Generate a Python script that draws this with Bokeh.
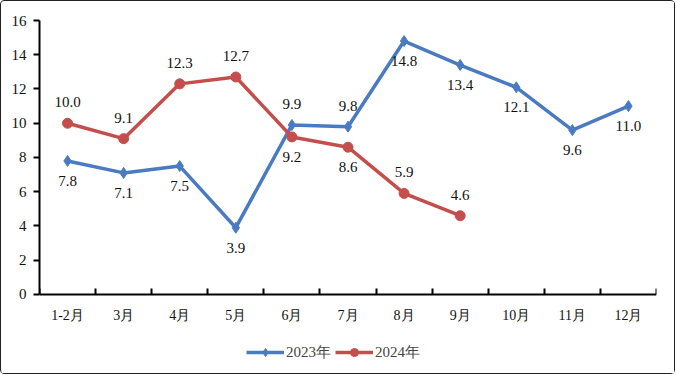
from bokeh.plotting import figure
from bokeh.models import ColumnDataSource, FixedTicker, Range1d, Legend, LegendItem, LabelSet
from bokeh.embed import file_html
from bokeh.resources import INLINE

months = ["1-2月", "3月", "4月", "5月", "6月", "7月", "8月", "9月", "10月", "11月", "12月"]
y2023 = [7.8, 7.1, 7.5, 3.9, 9.9, 9.8, 14.8, 13.4, 12.1, 9.6, 11.0]
y2024 = [10.0, 9.1, 12.3, 12.7, 9.2, 8.6, 5.9, 4.6]
y_ticks = [0, 2, 4, 6, 8, 10, 12, 14, 16]

# label placement (style): True = above the point, False = below
above2023 = [False, False, False, False, True, True, False, False, False, False, False]
above2024 = [True, True, True, True, False, False, True, True]

BLUE = "#4A7BC2"
RED = "#C44E4C"
FONT = "Liberation Serif"

x2023 = [i + 0.5 for i in range(len(y2023))]
x2024 = [i + 0.5 for i in range(len(y2024))]

# frame spans the whole lower area so the legend can sit under the axis
p = figure(width=675, height=374, output_backend="svg", toolbar_location=None,
           x_range=Range1d(0, len(months)), y_range=Range1d(-4.73, 16),
           min_border_left=38, min_border_right=20, min_border_top=19, min_border_bottom=0)
p.styles = {"border": "1px solid #222", "border-radius": "4px"}
p.outline_line_color = None
p.grid.visible = False
p.background_fill_color = "white"

p.xaxis.fixed_location = 0
p.xaxis.ticker = FixedTicker(ticks=x2023, minor_ticks=list(range(len(months) + 1)))
p.xaxis.major_label_overrides = {x: m for x, m in zip(x2023, months)}
p.xaxis.major_tick_line_color = None
p.xaxis.minor_tick_in = 6
p.xaxis.minor_tick_out = 0
p.xaxis.minor_tick_line_color = "black"
p.xaxis.minor_tick_line_width = 2
p.xaxis.axis_line_width = 2
p.xaxis.axis_line_color = "black"
p.xaxis.major_label_standoff = 8
p.xaxis.major_label_text_font = FONT
p.xaxis.major_label_text_font_size = "14px"
p.xaxis.major_label_text_color = "#111"

p.yaxis.bounds = (0, 16)
p.yaxis.ticker = FixedTicker(ticks=y_ticks)
p.yaxis.minor_tick_line_color = None
p.yaxis.major_tick_in = 0
p.yaxis.major_tick_out = 6
p.yaxis.major_tick_line_width = 2
p.yaxis.axis_line_width = 2
p.yaxis.axis_line_color = "black"
p.yaxis.major_label_standoff = 7
p.yaxis.major_label_text_font = FONT
p.yaxis.major_label_text_font_size = "15px"
p.yaxis.major_label_text_color = "#111"

s23 = ColumnDataSource(dict(x=x2023, y=y2023))
s24 = ColumnDataSource(dict(x=x2024, y=y2024))

l1 = p.line("x", "y", source=s23, line_color=BLUE, line_width=3.5)
m1 = p.scatter("x", "y", source=s23, marker="diamond", size=11, fill_color=BLUE, line_color=BLUE)
l2 = p.line("x", "y", source=s24, line_color=RED, line_width=3.5)
m2 = p.scatter("x", "y", source=s24, marker="circle", size=10, fill_color=RED, line_color=RED)

for xs, ys, flags in ((x2023, y2023, above2023), (x2024, y2024, above2024)):
    for want_above, off, base in ((True, 16, "bottom"), (False, -15, "top")):
        idx = [i for i, f in enumerate(flags) if f == want_above]
        src = ColumnDataSource(dict(x=[xs[i] for i in idx], y=[ys[i] for i in idx],
                                    lab=[f"{ys[i]:.1f}" for i in idx]))
        p.add_layout(LabelSet(x="x", y="y", text="lab", source=src, y_offset=off,
                              text_align="center", text_baseline=base,
                              text_font=FONT, text_font_size="15px", text_color="#111"))

legend = Legend(items=[LegendItem(label="2023年", renderers=[l1, m1]),
                       LegendItem(label="2024年", renderers=[l2, m2])],
                orientation="horizontal", location=(207, 13),
                border_line_color=None, background_fill_alpha=0,
                label_text_font=FONT, label_text_font_size="15px",
                glyph_width=38, spacing=4, label_standoff=2, padding=4, margin=0)
p.add_layout(legend)

open("out.html", "w").write(file_html(p, INLINE))
